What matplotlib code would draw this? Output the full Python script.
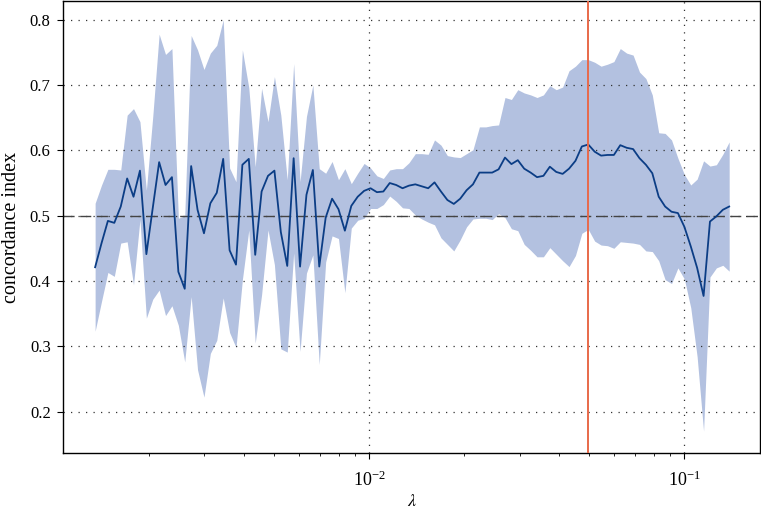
import matplotlib
matplotlib.use("Agg")
import matplotlib.pyplot as plt
import numpy as np

# lambda path (log spaced)
lam = [0.001349, 0.001414, 0.001481, 0.001552, 0.001627, 0.001705, 0.001786, 0.001872, 0.001962, 0.002056,
       0.002154, 0.002257, 0.002365, 0.002479, 0.002597, 0.002722, 0.002852, 0.002989, 0.003132, 0.003282,
       0.003440, 0.003605, 0.003777, 0.003958, 0.004148, 0.004347, 0.004555, 0.004773, 0.005002, 0.005242,
       0.005494, 0.005757, 0.006033, 0.006322, 0.006625, 0.006942, 0.007275, 0.007624, 0.007989, 0.008372,
       0.008774, 0.009194, 0.009635, 0.01010, 0.01058, 0.01109, 0.01162, 0.01218, 0.01276, 0.01337,
       0.01401, 0.01468, 0.01539, 0.01612, 0.01690, 0.01771, 0.01856, 0.01945, 0.02038, 0.02135,
       0.02238, 0.02345, 0.02457, 0.02575, 0.02698, 0.02828, 0.02963, 0.03105, 0.03254, 0.03410,
       0.03573, 0.03745, 0.03924, 0.04112, 0.04309, 0.04516, 0.04732, 0.04959, 0.05197, 0.05446,
       0.05707, 0.05980, 0.06267, 0.06567, 0.06882, 0.07212, 0.07557, 0.07919, 0.08299, 0.08697,
       0.09114, 0.09550, 0.1001, 0.1049, 0.1099, 0.1152, 0.1207, 0.1265, 0.1326, 0.1389]

# mean concordance index
cindex = [0.421, 0.458, 0.492, 0.489, 0.514, 0.557, 0.529, 0.569, 0.441, 0.512,
          0.582, 0.547, 0.559, 0.414, 0.388, 0.576, 0.509, 0.473, 0.519, 0.535,
          0.587, 0.447, 0.425, 0.578, 0.587, 0.440, 0.537, 0.561, 0.569, 0.475,
          0.423, 0.588, 0.422, 0.532, 0.570, 0.422, 0.497, 0.526, 0.510, 0.477,
          0.515, 0.529, 0.538, 0.542, 0.536, 0.537, 0.550, 0.547, 0.542, 0.546,
          0.548, 0.545, 0.542, 0.551, 0.537, 0.524, 0.518, 0.526, 0.539, 0.548,
          0.566, 0.566, 0.566, 0.571, 0.589, 0.579, 0.585, 0.572, 0.566, 0.559,
          0.561, 0.575, 0.567, 0.564, 0.572, 0.584, 0.606, 0.609, 0.598, 0.592,
          0.593, 0.593, 0.608, 0.604, 0.602, 0.588, 0.578, 0.565, 0.529, 0.514,
          0.506, 0.504, 0.483, 0.453, 0.420, 0.377, 0.491, 0.499, 0.509, 0.514]

# standard deviation (half width of the band)
cindex_sd = [0.098, 0.089, 0.079, 0.082, 0.056, 0.097, 0.135, 0.075, 0.098, 0.140,
             0.196, 0.200, 0.197, 0.082, 0.112, 0.200, 0.245, 0.251, 0.230, 0.226,
             0.213, 0.126, 0.127, 0.176, 0.109, 0.135, 0.158, 0.083, 0.144, 0.179,
             0.132, 0.145, 0.130, 0.120, 0.130, 0.150, 0.068, 0.057, 0.045, 0.095,
             0.034, 0.036, 0.042, 0.031, 0.025, 0.020, 0.020, 0.025, 0.030, 0.035,
             0.047, 0.050, 0.052, 0.065, 0.071, 0.068, 0.072, 0.063, 0.056, 0.053,
             0.070, 0.070, 0.072, 0.068, 0.092, 0.099, 0.108, 0.116, 0.119, 0.122,
             0.124, 0.124, 0.126, 0.133, 0.150, 0.145, 0.133, 0.130, 0.137, 0.137,
             0.139, 0.143, 0.148, 0.145, 0.144, 0.132, 0.132, 0.120, 0.098, 0.112,
             0.110, 0.084, 0.080, 0.094, 0.136, 0.207, 0.085, 0.079, 0.085, 0.099]

best_lam = 0.04959
baseline = 0.5

plt.rcParams['font.family'] = ['Liberation Serif', 'DejaVu Serif']
plt.rcParams['mathtext.fontset'] = 'stix'

lam = np.array(lam)
m = np.array(cindex)
sd = np.array(cindex_sd)

fig = plt.figure(figsize=(7.61, 5.17), dpi=100)
ax = fig.add_axes([0.083, 0.124, 0.916, 0.874])

ax.fill_between(lam, m - sd, m + sd, color='#b3c1e0', lw=0, zorder=1)
ax.plot(lam, m, color='#0b3d85', lw=1.3, zorder=3)
ax.axhline(baseline, color='#444444', lw=1.0, ls=(0, (8, 4)), zorder=2)
ax.axvline(best_lam, color='#e8694a', lw=1.4, zorder=4)

ax.set_xscale('log')
ax.set_xlim(0.001068, 0.1743)
ax.set_ylim(0.1366, 0.8288)
ax.set_yticks([0.2, 0.3, 0.4, 0.5, 0.6, 0.7, 0.8])
ax.set_yticklabels(['0.2', '0.3', '0.4', '0.5', '0.6', '0.7', '0.8'])
ax.grid(True, which='major', color='#333333', ls=(0, (1, 5)), lw=0.9)
ax.tick_params(axis='y', which='major', labelsize=12, length=4, width=0.8, pad=5)
ax.tick_params(axis='x', which='major', labelsize=13, length=4, width=0.8, pad=9)
ax.tick_params(axis='x', which='minor', length=2.5, width=0.6)
for s in ax.spines.values():
    s.set_linewidth(1.0)

ax.set_xlabel(r'$\lambda$', fontsize=13, labelpad=2)
ax.set_ylabel('concordance index', fontsize=14.5, labelpad=6)

fig.savefig('out.png', dpi=100)
